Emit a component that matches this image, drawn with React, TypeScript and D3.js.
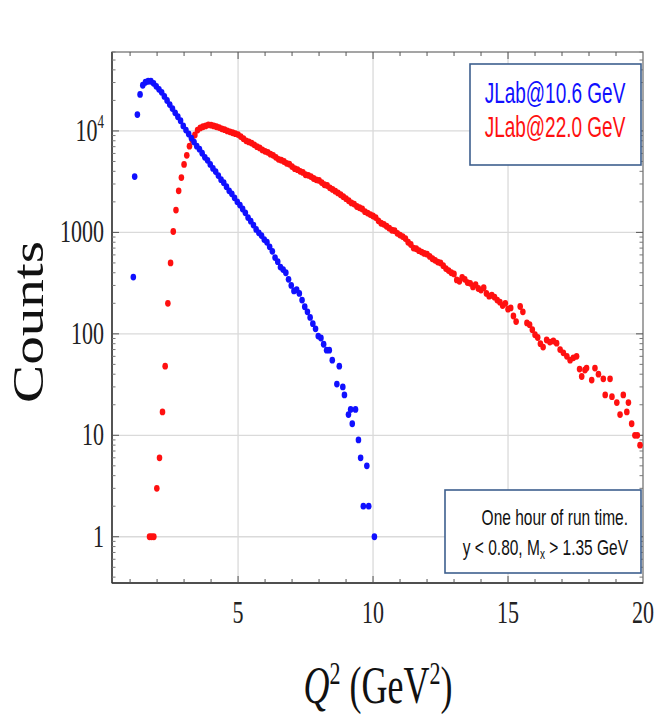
import React from "react";
import * as d3 from "d3";

// Q^2 bin centres and counts, JLab @ 10.6 GeV
const blueQ = [1.12, 1.17, 1.27, 1.37, 1.47, 1.57, 1.67, 1.77, 1.87, 1.97, 2.07, 2.17, 2.27, 2.37, 2.47, 2.57, 2.67, 2.77, 2.87, 2.97,
  3.07, 3.17, 3.27, 3.37, 3.47, 3.57, 3.67, 3.77, 3.87, 3.97, 4.07, 4.17, 4.27, 4.37, 4.47, 4.57, 4.67, 4.77, 4.87, 4.97,
  5.07, 5.17, 5.27, 5.37, 5.47, 5.57, 5.67, 5.77, 5.87, 5.97, 6.07, 6.17, 6.27, 6.37, 6.47, 6.57, 6.67, 6.77, 6.87, 6.97,
  7.07, 7.17, 7.27, 7.37, 7.47, 7.57, 7.67, 7.77, 7.87, 7.97, 8.07, 8.17, 8.28, 8.38, 8.49, 8.66, 8.75, 8.88, 8.94, 9.09,
  9.17, 9.23, 9.35, 9.46, 9.54, 9.64, 9.77, 9.84, 10.05];
const blueCounts = [363, 3550, 14500, 22900, 28200, 30200, 30900, 30900, 29500, 27500, 25700, 24000, 21900, 19950, 18200, 16600, 15100, 13800, 12600, 11200,
  10200, 9330, 8510, 7760, 7080, 6610, 6030, 5500, 5130, 4680, 4270, 3980, 3630, 3310, 3090, 2820, 2570, 2400, 2190, 2000,
  1860, 1700, 1560, 1400, 1290, 1180, 1070, 990, 930, 850, 800, 720, 650, 565, 515, 455, 430, 400, 345, 300,
  265, 272, 250, 215, 185, 165, 145, 126, 112, 95, 91, 79, 69, 69, 55, 32, 48, 30, 25, 16,
  18, 13, 18, 9, 6, 2, 5, 2, 1];

// JLab @ 22.0 GeV
const redQ = [1.72, 1.80, 1.88, 1.99, 2.09, 2.20, 2.30, 2.40, 2.50, 2.60, 2.70, 2.80, 2.90, 3.00, 3.10, 3.20, 3.30, 3.40, 3.50, 3.60,
  3.70, 3.80, 3.90, 4.00, 4.10, 4.20, 4.30, 4.40, 4.50, 4.60, 4.70, 4.80, 4.90, 5.00, 5.10, 5.20, 5.30, 5.40, 5.50, 5.60,
  5.70, 5.80, 5.90, 6.00, 6.10, 6.20, 6.30, 6.40, 6.50, 6.60, 6.70, 6.80, 6.90, 7.00, 7.10, 7.20, 7.30, 7.40, 7.50, 7.60,
  7.70, 7.80, 7.90, 8.00, 8.10, 8.20, 8.30, 8.40, 8.50, 8.60, 8.70, 8.80, 8.90, 9.00, 9.10, 9.20, 9.30, 9.40, 9.50, 9.60,
  9.70, 9.80, 9.90, 10.0, 10.1, 10.2, 10.3, 10.4, 10.5, 10.6, 10.7, 10.8, 10.9, 11.0, 11.1, 11.2, 11.3, 11.4, 11.5, 11.6,
  11.7, 11.8, 11.9, 12.0, 12.1, 12.2, 12.3, 12.4, 12.5, 12.6, 12.7, 12.8, 12.9, 13.0, 13.1, 13.2, 13.3, 13.4, 13.5, 13.6,
  13.7, 13.8, 13.9, 14.0, 14.1, 14.2, 14.3, 14.4, 14.5, 14.6, 14.7, 14.8, 14.9, 15.0, 15.1, 15.2, 15.3, 15.45, 15.55, 15.7,
  15.8, 15.9, 16.0, 16.1, 16.2, 16.3, 16.43, 16.55, 16.68, 16.8, 16.93, 17.05, 17.18, 17.3, 17.42, 17.54, 17.65, 17.73, 17.85, 17.91,
  18.1, 18.22, 18.35, 18.53, 18.6, 18.78, 18.85, 19.03, 19.15, 19.27, 19.4, 19.46, 19.58, 19.7, 19.79, 19.89];
const redCounts = [1, 1, 1, 3, 6, 17, 48, 200, 500, 1020, 1660, 2570, 3470, 4680, 5750, 7080, 8130, 9120, 10200, 10700,
  11000, 11200, 11500, 11400, 11200, 11000, 10800, 10500, 10300, 10000, 9800, 9600, 9400, 9200, 8800, 8400, 8000, 7800, 7600, 7300,
  7000, 6800, 6500, 6300, 6150, 5900, 5750, 5500, 5250, 5150, 5000, 4800, 4700, 4450, 4250, 4150, 4000, 3900, 3700, 3650,
  3550, 3400, 3300, 3250, 3100, 2950, 2900, 2750, 2650, 2550, 2450, 2350, 2250, 2150, 2050, 1950, 1900, 1800, 1750, 1700,
  1600, 1550, 1500, 1450, 1400, 1300, 1230, 1200, 1150, 1100, 1050, 1040, 980, 940, 910, 870, 800, 760, 700, 690,
  660, 640, 620, 610, 580, 550, 530, 510, 500, 470, 440, 420, 400, 390, 340, 330, 360, 345, 320, 315,
  290, 305, 280, 270, 285, 250, 235, 240, 230, 215, 205, 190, 200, 175, 180, 150, 132, 186, 165, 128,
  123, 110, 98, 92, 80, 74, 87, 83, 85, 81, 70, 65, 60, 55, 58, 60, 45, 38, 44, 46,
  35, 46, 40, 36, 25, 36, 24, 21, 16, 25, 17, 21, 13, 10, 10, 8];

const xTicks = [5, 10, 15, 20];
const xGrid = [5, 10, 15];
const yTicks = [1, 10, 100, 1000, 10000];
const yTickLabels = ["1", "10", "100", "1000", "10"];
const legendLabels = ["JLab@10.6 GeV", "JLab@22.0 GeV"];
const seriesColors = ["#1010ff", "#ff1010"];

const W = 654, H = 720;
const L = 112, R = 643, T = 52, B = 583;
const SY = 1.45;
const serif = "'Liberation Serif', 'DejaVu Serif', serif";
const sans = "'Liberation Sans', Arial, sans-serif";

export default function App() {
  const x = d3.scaleLinear().domain([0.33, 20]).range([L, R]);
  const y = d3.scaleLog().domain([0.35, 60000]).range([B, T]);

  const xMinor = d3.range(1, 20);
  const yMinor: number[] = [];
  [0.1, 1, 10, 100, 1000, 10000].forEach((d) => {
    for (let k = 2; k <= 9; k++) {
      const v = d * k;
      if (v >= 0.35 && v <= 60000) yMinor.push(v);
    }
  });

  const blue = blueQ.map((q, i) => [q, blueCounts[i]]);
  const red = redQ.map((q, i) => [q, redCounts[i]]);

  return (
    <svg width={W} height={H} style={{ position: "absolute", left: 0, top: 0, background: "#fff" }}>
      {/* grid */}
      {xGrid.map((v) => (
        <line key={"gx" + v} x1={x(v)} x2={x(v)} y1={T} y2={B} stroke="#dadada" strokeWidth={1.3} />
      ))}
      {yTicks.map((v) => (
        <line key={"gy" + v} x1={L} x2={R} y1={y(v)} y2={y(v)} stroke="#dadada" strokeWidth={1.3} />
      ))}

      {/* frame */}
      <rect x={L} y={T} width={R - L} height={B - T} fill="none" stroke="#6a6a6a" strokeWidth={1.2} />
      <line x1={L} x2={L} y1={T} y2={B} stroke="#333" strokeWidth={1.4} />
      <line x1={L} x2={R} y1={B} y2={B} stroke="#333" strokeWidth={1.4} />

      {/* ticks */}
      {xMinor.map((v) => {
        const len = v % 5 === 0 ? 7 : 4;
        return (
          <g key={"tx" + v} stroke="#555" strokeWidth={1}>
            <line x1={x(v)} x2={x(v)} y1={B} y2={B - len} />
            <line x1={x(v)} x2={x(v)} y1={T} y2={T + len} />
          </g>
        );
      })}
      {yTicks.map((v) => (
        <g key={"ty" + v} stroke="#555" strokeWidth={1}>
          <line x1={L} x2={L + 7} y1={y(v)} y2={y(v)} />
          <line x1={R} x2={R - 7} y1={y(v)} y2={y(v)} />
        </g>
      ))}
      {yMinor.map((v) => (
        <g key={"tm" + v} stroke="#777" strokeWidth={1}>
          <line x1={L} x2={L + 3.5} y1={y(v)} y2={y(v)} />
          <line x1={R} x2={R - 3.5} y1={y(v)} y2={y(v)} />
        </g>
      ))}

      {/* points */}
      {red.map(([q, c], i) => (
        <ellipse key={"r" + i} cx={x(q)} cy={y(c)} rx={2.8} ry={3.4} fill={seriesColors[1]} />
      ))}
      {blue.map(([q, c], i) => (
        <ellipse key={"b" + i} cx={x(q)} cy={y(c)} rx={2.8} ry={3.4} fill={seriesColors[0]} />
      ))}

      {/* tick labels */}
      {xTicks.map((v) => (
        <text key={"lx" + v} transform={`translate(${x(v)},623) scale(1,${SY})`} textAnchor="middle"
          fontFamily={serif} fontSize={22} fill="#222">{v}</text>
      ))}
      {yTicks.map((v, i) => (
        <text key={"ly" + v} transform={`translate(104,${y(v) + 10}) scale(1,${SY})`} textAnchor="end"
          fontFamily={serif} fontSize={22} fill="#222">
          {yTickLabels[i]}
          {v === 10000 && <tspan dy={-9} fontSize={13}>4</tspan>}
        </text>
      ))}

      {/* axis titles */}
      <text transform={`translate(43,322) rotate(-90)`} textAnchor="middle" fontFamily={serif} fontSize={44}
        textLength={162} lengthAdjust="spacingAndGlyphs" fill="#111">Counts</text>
      <text transform={`translate(378,703) scale(1,${SY})`} textAnchor="middle" fontFamily={serif} fontSize={36} fill="#111">
        <tspan fontStyle="italic">Q</tspan>
        <tspan dy={-13} fontSize={22}>2</tspan>
        <tspan dy={13}> (GeV</tspan>
        <tspan dy={-13} fontSize={22}>2</tspan>
        <tspan dy={13}>)</tspan>
      </text>

      {/* legend */}
      <rect x={470} y={64} width={171} height={101} fill="#fff" stroke="#3e5f8e" strokeWidth={1.6} />
      {legendLabels.map((t, i) => (
        <text key={t} transform={`translate(555,${103 + i * 34}) scale(1,1.55)`} textAnchor="middle"
          fontFamily={sans} fontSize={19} fill={seriesColors[i]}>{t}</text>
      ))}

      {/* note box */}
      <rect x={445} y={490} width={196} height={83} fill="#fff" stroke="#3e5f8e" strokeWidth={1.6} />
      <text transform={`translate(628,525) scale(1,1.45)`} textAnchor="end" fontFamily={sans} fontSize={15.5} fill="#111">
        One hour of run time.
      </text>
      <text transform={`translate(628,555) scale(1,1.45)`} textAnchor="end" fontFamily={sans} fontSize={15.5} fill="#111">
        y &lt; 0.80, M<tspan dy={3} fontSize={10}>x</tspan><tspan dy={-3}> &gt; 1.35 GeV</tspan>
      </text>
    </svg>
  );
}
